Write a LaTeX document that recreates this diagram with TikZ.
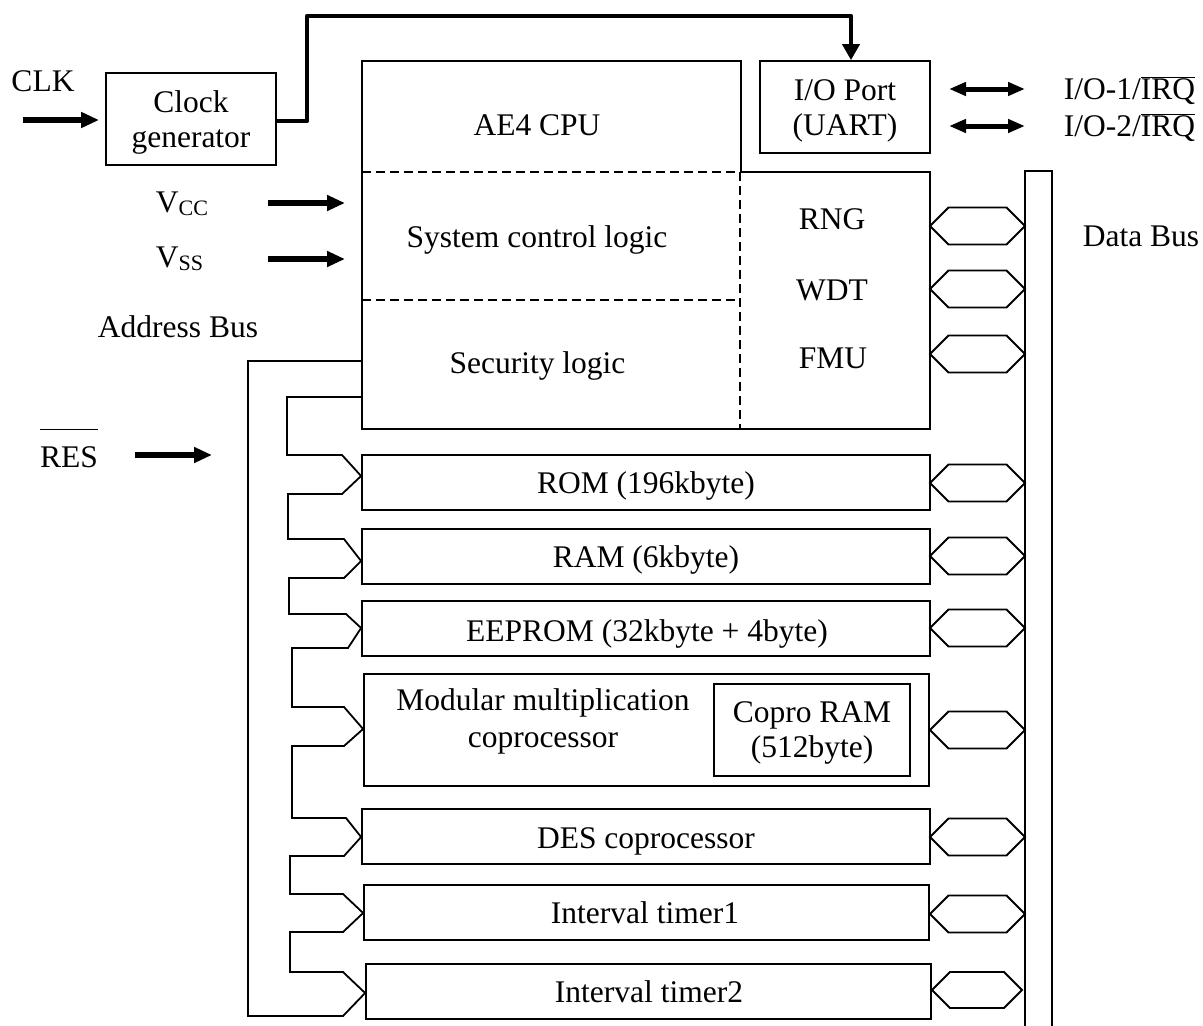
\documentclass[tikz,border=0pt]{standalone}
\usepackage{fontspec}
\setmainfont{Liberation Serif}
\usetikzlibrary{arrows.meta}
\begin{document}
\begin{tikzpicture}[x=1pt,y=-1pt,line width=1.8pt,
  font=\fontsize{31.5}{37}\selectfont,
  box/.style={draw,line width=1.8pt,inner sep=0pt},
  lbl/.style={anchor=base,inner sep=0pt},
  fatarrow/.style={line width=5.5pt,-{Triangle[length=18pt,width=15pt]}},
  dblarrow/.style={line width=5pt,{Triangle[length=17pt,width=13pt]}-{Triangle[length=17pt,width=13pt]}},
  clkline/.style={line width=4.5pt,line join=round,-{Triangle[length=16pt,width=17pt]}},
  sepline/.style={line width=2.4pt,dash pattern=on 9pt off 5pt},
  hexbus/.pic={\draw[line width=1.8pt] (-47.5,0) -- (-29,-18.5) -- (29,-18.5) -- (47.5,0) -- (29,18.5) -- (-29,18.5) -- cycle;}
]
\useasboundingbox (0,0) rectangle (1203,1026);

% ---------- boxes ----------
\node[box,minimum width=170pt,minimum height=92pt] (clk) at (191,119) {};
\node[box,minimum width=170pt,minimum height=92pt] (io) at (845,107) {};
\node[box,minimum width=568pt,minimum height=55pt] (rom) at (646,482.5) {};
\node[box,minimum width=568pt,minimum height=55pt] (ram) at (646,556.5) {};
\node[box,minimum width=568pt,minimum height=55pt] (eeprom) at (646,628.5) {};
\node[box,minimum width=565pt,minimum height=112pt] (mod) at (646.5,730) {};
\node[box,minimum width=196pt,minimum height=92pt] (copro) at (812,730) {};
\node[box,minimum width=568pt,minimum height=55pt] (des) at (646,836.5) {};
\node[box,minimum width=565pt,minimum height=55pt] (it1) at (646.5,912.5) {};
\node[box,minimum width=565pt,minimum height=55pt] (it2) at (648.5,991.5) {};

% CPU block
\draw (362,61) -- (741,61) -- (741,172) -- (930,172) -- (930,429) -- (362,429) -- cycle;
\draw[sepline] (362,172) -- (741,172);
\draw[sepline] (362,300) -- (740,300);
\draw[sepline] (740,172) -- (740,429);
\coordinate (cpuA) at (362,361);
\coordinate (cpuB) at (362,397);

% data bus
\draw (1025,1032) -- (1025,171) -- (1052,171) -- (1052,1032);

% ---------- texts ----------
\node[lbl] at (43,91) {CLK};
\node[lbl] at (191,112) {Clock};
\node[lbl] at (191,147) {generator};
\node[lbl,anchor=base west] at (155,212) {V\raisebox{-3pt}{\fontsize{22}{22}\selectfont CC}};
\node[lbl,anchor=base west] at (155,267) {V\raisebox{-3pt}{\fontsize{22}{22}\selectfont SS}};
\node[lbl] at (178,337) {Address Bus};
\node[lbl] at (69,467) {$\overline{\mbox{RES\rule{0pt}{36pt}}}$};

\node[lbl] at (537,135) {AE4 CPU};
\node[lbl] at (537,247) {System control logic};
\node[lbl] at (537.5,373) {Security logic};
\node[lbl] at (832,229) {RNG};
\node[lbl] at (832,300) {WDT};
\node[lbl] at (833,368) {FMU};

\node[lbl] at (845,100) {I/O Port};
\node[lbl] at (845,135) {(UART)};
\node[lbl,anchor=base west] at (1063,99) {I/O-1/$\overline{\mbox{IRQ}}$};
\node[lbl,anchor=base west] at (1063,136) {I/O-2/$\overline{\mbox{IRQ}}$};
\node[lbl] at (1141,246) {Data Bus};

\node[lbl] at (646,493) {ROM (196kbyte)};
\node[lbl] at (646,567) {RAM (6kbyte)};
\node[lbl] at (647,641) {EEPROM (32kbyte + 4byte)};
\node[lbl] at (543,710) {Modular multiplication};
\node[lbl] at (543,747) {coprocessor};
\node[lbl] at (812,722) {Copro RAM};
\node[lbl] at (812,757) {(512byte)};
\node[lbl] at (646,848) {DES coprocessor};
\node[lbl] at (645,923) {Interval timer1};
\node[lbl] at (649,1002) {Interval timer2};

% ---------- arrows ----------
\draw[fatarrow] (23,120) -- ([xshift=-6pt]clk.west |- 0,120);
\draw[fatarrow] (268,203) -- (345,203);
\draw[fatarrow] (268,259) -- (345,259);
\draw[fatarrow] (135,455) -- (212,455);
\draw[clkline] (clk.east |- 0,121) -- (307,121) -- (307,16) -- (851,16) -- (851,0 |- io.north);
\draw[dblarrow] (949,89) -- (1025,89);
\draw[dblarrow] (949,126) -- (1025,126);

% ---------- bus connectors (data bus) ----------
\foreach \yy in {226,289,354,483,556,628,730,837,914}
  \pic at (977.5,\yy) {hexbus};
\draw (932,990) -- (950,972) -- (1004,972) -- (1022,990) -- (1004,1008) -- (950,1008) -- cycle;

% ---------- address bus ----------
\draw[line join=miter] (cpuB) -- (287,397) -- (287,455) -- (342,455) -- (rom.west |- 0,476) -- (342,494) -- (288,494)
  -- (288,539) -- (344,539) -- (ram.west |- 0,561) -- (344,578) -- (289,578)
  -- (289,614) -- (346,614) -- (eeprom.west |- 0,628) -- (348,648) -- (292,648)
  -- (292,707) -- (344,707) -- (mod.west |- 0,729) -- (344,746) -- (292,746)
  -- (292,818) -- (346,818) -- (des.west |- 0,837) -- (344,856) -- (290,856)
  -- (290,894) -- (343,894) -- (it1.west |- 0,913) -- (343,932) -- (290,932)
  -- (290,972) -- (343,972) -- (it2.west |- 0,993) -- (343,1016) -- (248,1016)
  -- (248,361) -- (cpuA);
\end{tikzpicture}
\end{document}
